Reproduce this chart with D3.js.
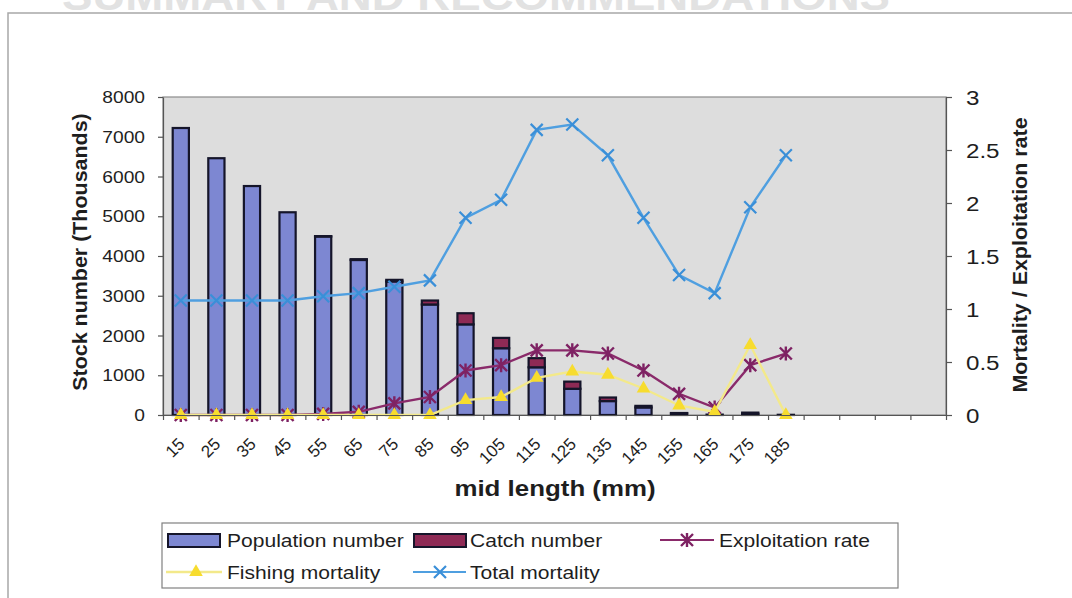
<!DOCTYPE html>
<html>
<head>
<meta charset="utf-8">
<script src="https://cdn.jsdelivr.net/npm/d3@7"></script>
<style>
  html, body { margin: 0; padding: 0; background: #ffffff; }
  svg { display: block; }
  text { font-family: "Liberation Sans", Arial, sans-serif; }
</style>
</head>
<body>
<svg id="chart" width="1072" height="598"></svg>
<script>
// ---------- data ----------
const categories = ["15","25","35","45","55","65","75","85","95","105","115","125","135","145","155","165","175","185"];
const populationNumber = [7220,6460,5760,5100,4490,3900,3360,2780,2280,1680,1200,660,350,190,40,10,30,5];
const catchNumber      = [0,0,0,0,10,20,40,100,280,260,230,180,90,40,10,0,30,0];
const exploitationRate = [0,0,0,0,0.01,0.03,0.11,0.17,0.42,0.47,0.61,0.61,0.58,0.42,0.2,0.07,0.47,0.58];
const fishingMortality = [0,0,0,0,0,0,0,0,0.14,0.17,0.35,0.41,0.38,0.25,0.09,0.03,0.66,0];
const totalMortality   = [1.08,1.08,1.08,1.08,1.12,1.15,1.21,1.27,1.86,2.03,2.69,2.74,2.45,1.86,1.32,1.15,1.96,2.45];
const leftTicks  = [0,1000,2000,3000,4000,5000,6000,7000,8000];
const rightTicks = [0,0.5,1,1.5,2,2.5,3];
const slotCount = 22; // category slots on the axis (last ones unlabeled)

// ---------- layout ----------
const svg = d3.select("#chart");
const P = { left: 163, right: 946, top: 97, bottom: 415 };
const SX = 1.15; // horizontal stretch of the scanned text

const x = d3.scaleBand().domain(d3.range(slotCount)).range([P.left, P.right]).padding(0);
const xl = d3.scaleLinear().domain([0, slotCount]).range([P.left, P.right]);
const yL = d3.scaleLinear().domain([0, 8000]).range([P.bottom, P.top]);
const yR = d3.scaleLinear().domain([0, 3]).range([P.bottom, P.top]);

// page decoration (scanned page)
svg.append("text").attr("x", 62).attr("y", 10)
  .attr("font-size", 40).attr("font-weight", "bold").attr("fill", "#e2e2e2")
  .attr("textLength", 828).attr("lengthAdjust", "spacingAndGlyphs")
  .text("SUMMARY AND RECOMMENDATIONS");
svg.append("path").attr("d", "M8,640 L8,13 L1080,13")
  .attr("fill", "none").attr("stroke", "#a8a8a8").attr("stroke-width", 1.5);

// plot area
svg.append("rect").attr("x", P.left).attr("y", P.top)
  .attr("width", P.right - P.left).attr("height", P.bottom - P.top)
  .attr("fill", "#dddddd").attr("stroke", "#8c8c8c").attr("stroke-width", 1.2);

// ---------- bars ----------
const rows = categories.map((c, i) => ({ i, pop: populationNumber[i], catch: catchNumber[i] }));
const stacked = d3.stack().keys(["pop", "catch"])(rows);
const barColors = { pop: "#7d87d2", catch: "#8e2a55" };
const bw = x.bandwidth() * 0.455;
stacked.forEach(layer => {
  svg.append("g").selectAll("rect").data(layer).join("rect")
    .attr("x", d => x(d.data.i) + (x.bandwidth() - bw) / 2)
    .attr("y", d => yL(d[1]))
    .attr("width", bw)
    .attr("height", d => Math.max(0, yL(d[0]) - yL(d[1])))
    .attr("fill", barColors[layer.key])
    .attr("stroke", "#15152a").attr("stroke-width", 2.2);
});

// ---------- lines ----------
const cx = i => x(i) + x.bandwidth() / 2;
function lineSeries(values, color, width, markerFn) {
  const line = d3.line().x((d, i) => cx(i)).y(d => yR(d));
  svg.append("path").datum(values).attr("d", line)
    .attr("fill", "none").attr("stroke", color).attr("stroke-width", width);
  const g = svg.append("g");
  values.forEach((v, i) => markerFn(g.append("g").attr("transform", `translate(${cx(i)},${yR(v)})`)));
}
const xMark = (color) => g => g.append("path").attr("d", "M-6,-6L6,6M-6,6L6,-6")
  .attr("stroke", color).attr("stroke-width", 2.2).attr("fill", "none");
const starMark = (color) => g => g.append("path").attr("d", "M-6,-6L6,6M-6,6L6,-6M0,-7L0,7")
  .attr("stroke", color).attr("stroke-width", 2.4).attr("fill", "none");
const triMark = (color) => g => g.append("path").attr("d", d3.symbol(d3.symbolTriangle, 80)())
  .attr("fill", color);

lineSeries(exploitationRate, "#8a2a6a", 2.4, starMark("#7e2263"));
lineSeries(fishingMortality, "#f3e98a", 2.4, triMark("#f7dc2e"));
lineSeries(totalMortality, "#4f9fe0", 2.4, xMark("#3a8fd8"));

// ---------- axes ----------
const axisColor = "#555";
const gx = svg.append("g").attr("transform", `translate(0,${P.bottom})`)
  .call(d3.axisBottom(xl).tickValues(d3.range(slotCount + 1)).tickFormat("").tickSize(5).tickSizeOuter(0));
gx.selectAll("line,path").attr("stroke", axisColor).attr("stroke-width", 1.2);

const gyl = svg.append("g").attr("transform", `translate(${P.left},0)`)
  .call(d3.axisLeft(yL).tickValues(leftTicks).tickFormat("").tickSize(5).tickSizeOuter(0));
gyl.selectAll("line,path").attr("stroke", axisColor).attr("stroke-width", 1.2);

const gyr = svg.append("g").attr("transform", `translate(${P.right},0)`)
  .call(d3.axisRight(yR).tickValues(rightTicks).tickFormat("").tickSize(6).tickSizeOuter(0));
gyr.selectAll("line,path").attr("stroke", axisColor).attr("stroke-width", 1.2);

// tick labels (stretched like the scan)
function htext(x0, y0, str, size, anchor, weight, fill) {
  return svg.append("text")
    .attr("transform", `translate(${x0},${y0}) scale(${SX},1)`)
    .attr("text-anchor", anchor).attr("font-size", size)
    .attr("font-weight", weight || "normal").attr("fill", fill || "#1e1e1e")
    .text(str);
}
leftTicks.forEach(t => htext(145, yL(t) + 6, d3.format("d")(t), 16.7, "end"));
rightTicks.forEach(t => htext(966, yR(t) + 8, String(t), 21, "start"));

categories.forEach((c, i) => {
  svg.append("text")
    .attr("transform", `translate(${cx(i) + 5},${P.bottom + 30}) rotate(-45)`)
    .attr("text-anchor", "end").attr("font-size", 17).attr("fill", "#1e1e1e")
    .text(c);
});

// axis titles
htext(555, 496, "mid length (mm)", 22.5, "middle", "bold", "#1e1e1e");
svg.append("text")
  .attr("transform", `translate(87,252) rotate(-90) scale(1.1,1)`)
  .attr("text-anchor", "middle").attr("font-size", 19.5).attr("font-weight", "bold").attr("fill", "#1e1e1e")
  .text("Stock number (Thousands)");
svg.append("text")
  .attr("transform", `translate(1027,255) rotate(-90) scale(1.1,1)`)
  .attr("text-anchor", "middle").attr("font-size", 19.5).attr("font-weight", "bold").attr("fill", "#1e1e1e")
  .text("Mortality / Exploitation rate");

// ---------- legend ----------
svg.append("rect").attr("x", 162).attr("y", 523).attr("width", 736).attr("height", 65)
  .attr("fill", "#ffffff").attr("stroke", "#808080").attr("stroke-width", 1.2);
const L = svg.append("g");
// Population number
L.append("rect").attr("x", 168).attr("y", 534).attr("width", 52).attr("height", 13)
  .attr("fill", barColors.pop).attr("stroke", "#15152a").attr("stroke-width", 2);
htext(227, 547, "Population number", 18.3, "start");
// Catch number
L.append("rect").attr("x", 414).attr("y", 534).attr("width", 52).attr("height", 13)
  .attr("fill", barColors.catch).attr("stroke", "#15152a").attr("stroke-width", 2);
htext(470, 547, "Catch number", 18.3, "start");
// Exploitation rate
L.append("line").attr("x1", 660).attr("x2", 714).attr("y1", 540).attr("y2", 540)
  .attr("stroke", "#8a2a6a").attr("stroke-width", 2);
starMark("#7e2263")(L.append("g").attr("transform", "translate(687,540)"));
htext(719, 547, "Exploitation rate", 18.3, "start");
// Fishing mortality
L.append("line").attr("x1", 166).attr("x2", 222).attr("y1", 572).attr("y2", 572)
  .attr("stroke", "#f3e98a").attr("stroke-width", 2.4);
triMark("#f7dc2e")(L.append("g").attr("transform", "translate(196,572)"));
htext(227, 579, "Fishing mortality", 18.3, "start");
// Total mortality
L.append("line").attr("x1", 413).attr("x2", 466).attr("y1", 572).attr("y2", 572)
  .attr("stroke", "#4f9fe0").attr("stroke-width", 2);
xMark("#3a8fd8")(L.append("g").attr("transform", "translate(440,572)"));
htext(470, 579, "Total mortality", 18.3, "start");
</script>
</body>
</html>
